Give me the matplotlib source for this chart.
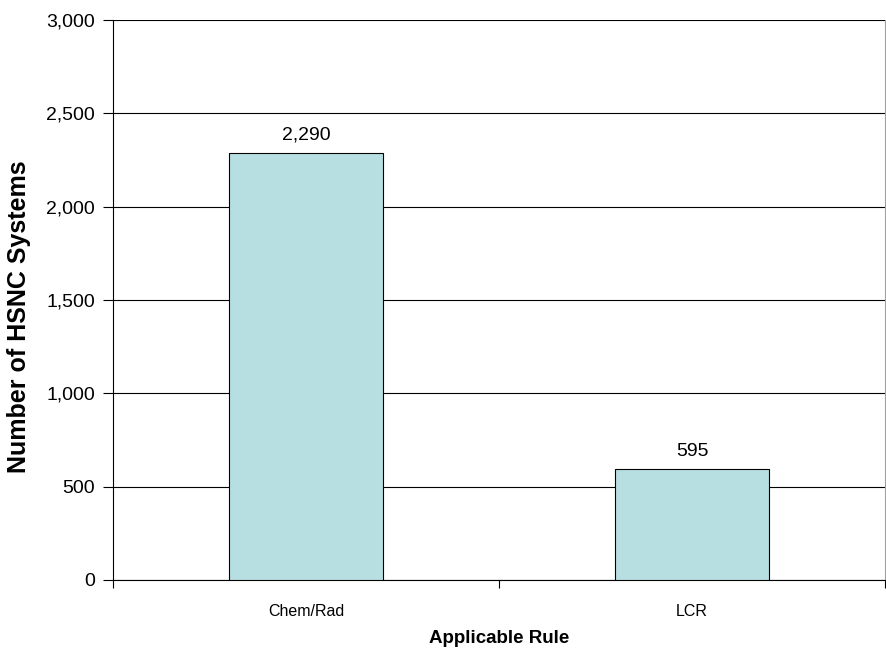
import matplotlib.pyplot as plt
from matplotlib.ticker import FuncFormatter, FixedLocator

plt.rcParams['font.family'] = ['Liberation Sans', 'DejaVu Sans']

# data
rules = ['Chem/Rad', 'LCR']
systems = [2290, 595]

fig = plt.figure(figsize=(8.86, 6.49), dpi=100)
ax = fig.add_axes([113 / 886, 1 - 580 / 649, 772 / 886, 560 / 649])

x = range(len(rules))
bars = ax.bar(x, systems, width=0.4, color='#b7dfe2', edgecolor='black', linewidth=0.8, zorder=3)
for b, v in zip(bars, systems):
    ax.text(b.get_x() + b.get_width() / 2, v + 50, f'{v:,}', ha='center', va='bottom', fontsize=14)

ax.set_xlim(-0.5, len(rules) - 0.5)
ax.set_ylim(0, 3000)
ax.set_yticks(range(0, 3001, 500))
ax.yaxis.set_major_formatter(FuncFormatter(lambda v, p: f'{int(v):,}'))
ax.grid(axis='y', color='black', linewidth=0.8, zorder=0)

ax.set_xticks(list(x))
ax.set_xticklabels(rules, fontsize=11.5)
ax.xaxis.set_minor_locator(FixedLocator([-0.5, 0.5, 1.5]))
ax.tick_params(axis='x', which='major', length=0, pad=17)
ax.tick_params(axis='x', which='minor', length=6, width=0.8)
ax.tick_params(axis='y', length=7, width=0.8, labelsize=14, pad=6)

ax.spines['top'].set_visible(False)
ax.spines['right'].set_color('#a0a0a0')
ax.spines['left'].set_linewidth(0.8)
ax.spines['bottom'].set_linewidth(0.8)

ax.set_xlabel('Applicable Rule', fontsize=13.5, fontweight='bold', labelpad=8)
ax.set_ylabel('Number of HSNC Systems', fontsize=18, fontweight='bold')
ax.yaxis.set_label_coords(-0.106, 0.47)

fig.savefig('out.png', dpi=100)
